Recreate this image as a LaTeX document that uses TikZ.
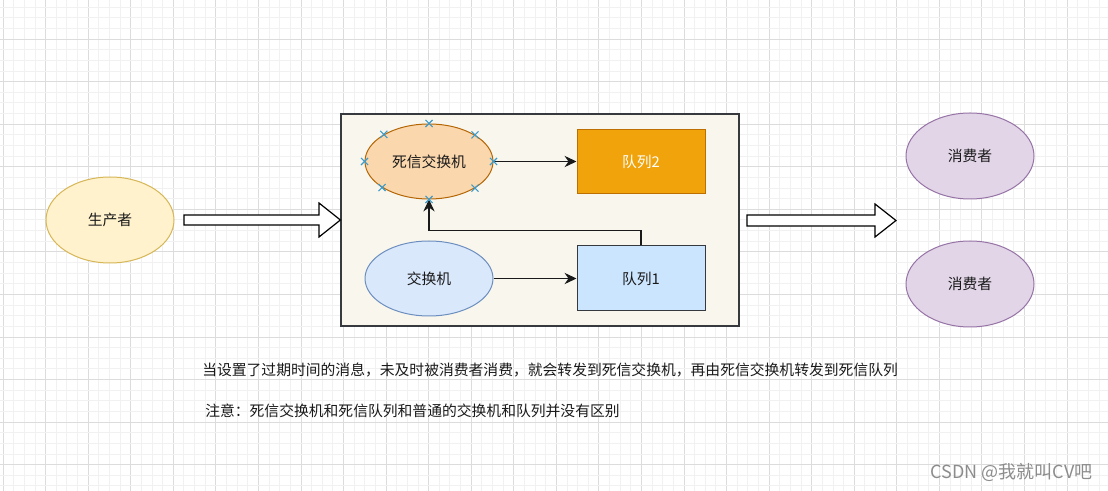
\documentclass[tikz,border=0pt]{standalone}
\usepackage{fontspec}
\setmainfont{Noto Sans CJK SC}
\usetikzlibrary{shapes.geometric,shapes.misc,arrows.meta,calc}
\definecolor{prodfill}{HTML}{FFF2CC}\definecolor{prodline}{HTML}{D6B656}
\definecolor{dlxfill}{HTML}{FAD7AC}\definecolor{dlxline}{HTML}{B46504}
\definecolor{qtwofill}{HTML}{F0A30A}\definecolor{qtwoline}{HTML}{BD7000}
\definecolor{exfill}{HTML}{DAE8FC}\definecolor{exline}{HTML}{6C8EBF}
\definecolor{qonefill}{HTML}{CCE5FF}\definecolor{qoneline}{HTML}{36393D}
\definecolor{consfill}{HTML}{E1D5E7}\definecolor{consline}{HTML}{9673A6}
\definecolor{contfill}{HTML}{F9F7ED}\definecolor{contline}{HTML}{36393D}
\definecolor{gridminor}{HTML}{F1F1F1}\definecolor{gridmajor}{HTML}{DCDCDC}
\definecolor{markblue}{HTML}{3E9BC9}
\definecolor{txt}{HTML}{1A1A1A}
\begin{document}
\begin{tikzpicture}[x=0.75pt,y=-0.75pt,
  lbl/.style={font=\fontsize{11.1pt}{13pt}\selectfont, text=txt},
  ell/.style={ellipse, draw, line width=0.75pt, minimum width=96pt, inner sep=0pt, lbl},
  qbox/.style={rectangle, draw, line width=0.75pt, minimum width=96pt, inner sep=0pt, lbl},
  conn/.style={draw=txt, line width=0.8pt, -{Stealth[length=9pt,width=8.5pt,inset=3pt]}},
  fat/.style={draw=black, line width=0.9pt, fill=white, line join=miter},
  xmk/.style={cross out, draw=markblue, line width=0.8pt, minimum size=4.5pt, inner sep=0pt},
  note/.style={anchor=west, inner sep=0pt, font=\fontsize{11.1pt}{13pt}\selectfont, text=txt}
]
\useasboundingbox (0,0) rectangle (1108,491);
\fill[white] (0,0) rectangle (1108,491);
% grid
\foreach \k in {0,...,104} {
  \pgfmathsetmacro\gx{3+10.64*\k}
  \pgfmathtruncatemacro\md{mod(\k,4)}
  \ifnum\md=0
    \draw[gridmajor, line width=0.6pt] (\gx,0) -- (\gx,491);
  \else
    \draw[gridminor, line width=0.6pt] (\gx,0) -- (\gx,491);
  \fi
}
\foreach \k in {0,...,47} {
  \pgfmathsetmacro\gy{-3.56+10.64*\k}
  \pgfmathtruncatemacro\md{mod(\k,4)}
  \ifnum\md=0
    \draw[gridmajor, line width=0.6pt] (0,\gy) -- (1108,\gy);
  \else
    \draw[gridminor, line width=0.6pt] (0,\gy) -- (1108,\gy);
  \fi
}

% producer
\node[ell, fill=prodfill, draw=prodline, minimum height=64.5pt] (prod) at (110,220) {生产者};

% container
\node[rectangle, draw=contline, fill=contfill, line width=0.9pt, minimum width=298.5pt, minimum height=159pt, inner sep=0pt] (cont) at (540,220) {};

% inner nodes
\node[ell, fill=dlxfill, draw=dlxline, minimum height=56.25pt] (dlx) at (429,161.5) {死信交换机};
\node[qbox, fill=qtwofill, draw=qtwoline, minimum height=48pt, text=white] (q2) at (641,161.5) {队列2};
\node[ell, fill=exfill, draw=exline, minimum height=56.25pt] (ex) at (429,278.5) {交换机};
\node[qbox, fill=qonefill, draw=qoneline, minimum height=48.75pt] (q1) at (641,278.5) {队列1};

% consumers
\node[ell, fill=consfill, draw=consline, minimum height=64.5pt] (c1) at (970,156) {消费者};
\node[ell, fill=consfill, draw=consline, minimum height=64.5pt] (c2) at (970,284) {消费者};

% connectors
\draw[conn] (dlx.east) -- (dlx.east -| q2.west);
\draw[conn] (ex.east) -- (ex.east -| q1.west);
\draw[conn] (q1.north) -- ++(0,-15.3) -| (dlx.south);

% connection-point markers
\foreach \a [count=\i] in {0,30.4,90,149.6,180,209.6,270,330.4}
  \node[xmk] (mk\i) at (dlx.\a) {};

% block arrows
\coordinate (a1s) at (184,220);
\draw[fat] ($(a1s)+(0,-5)$) -- (319,215) -- (319,203) -- (cont.west) -- (319,237) -- (319,225) -- ($(a1s)+(0,5)$) -- cycle;
\coordinate (a2s) at (747,220.5);
\coordinate (a2e) at (896,220.5);
\draw[fat] ($(a2s)+(0,-5.5)$) -- (875,215) -- (875,204) -- (a2e) -- (875,237) -- (875,226) -- ($(a2s)+(0,5.5)$) -- cycle;

% notes
\node[note] (t1) at (202,370) {当设置了过期时间的消息，未及时被消费者消费，就会转发到死信交换机，再由死信交换机转发到死信队列};
\node[note] (t2) at (205,411) {注意：死信交换机和死信队列和普通的交换机和队列并没有区别};

% watermark
\node[anchor=east, inner sep=0pt, font=\fontsize{13.5pt}{15pt}\selectfont, text=black!45] (wm) at (1093,472) {CSDN @我就叫CV吧};
\end{tikzpicture}
\end{document}
